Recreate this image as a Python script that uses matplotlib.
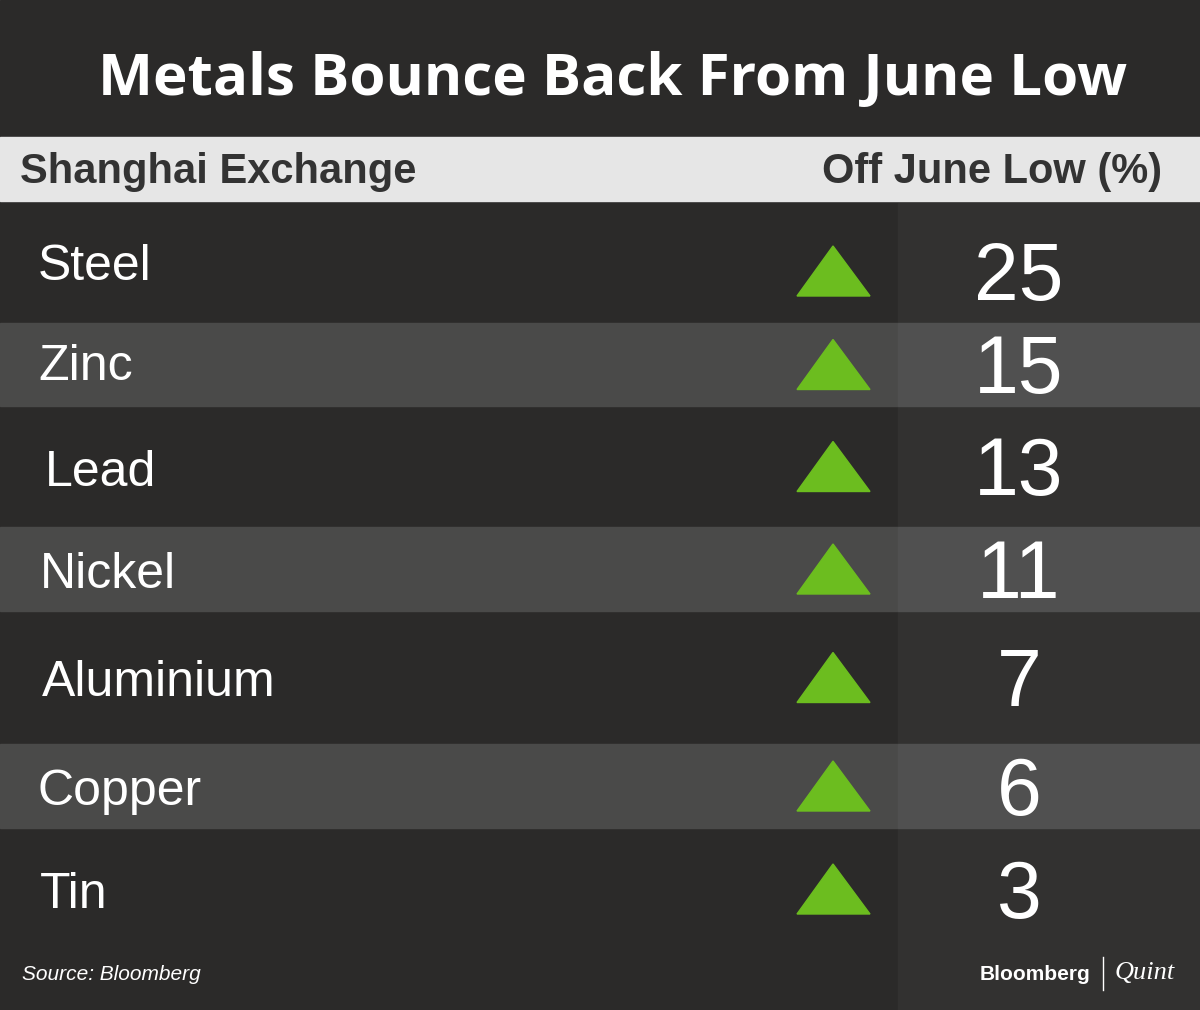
import matplotlib
matplotlib.use("Agg")
import matplotlib.pyplot as plt
from matplotlib.patches import Rectangle, Polygon

title = "Metals Bounce Back From June Low"
col_left = "Shanghai Exchange"
col_right = "Off June Low (%)"
metals = ["Steel", "Zinc", "Lead", "Nickel", "Aluminium", "Copper", "Tin"]
values = [25, 15, 13, 11, 7, 6, 3]
source = "Source: Bloomberg"

# layout (pixels)
row_edges = [203, 323, 406, 527, 611, 744, 828, 950]
label_x = [38, 38, 45, 40, 42, 38, 40]
label_dy = [-10, -3, 0, 0, 0, 0, 0]

fig = plt.figure(figsize=(12, 10.1), dpi=100)
ax = fig.add_axes([0, 0, 1, 1])
ax.set_xlim(0, 1200); ax.set_ylim(1010, 0); ax.axis("off")
dark, light, rdark, rlight = "#2b2a29", "#4a4a49", "#323130", "#505050"
ax.add_patch(Rectangle((0, 0), 1200, 1010, color=dark))
ax.add_patch(Rectangle((898, 203), 302, 807, color=rdark))
ax.text(613, 80, title, color="white", fontsize=42, fontweight="bold",
        family="Open Sans", ha="center", va="center")
ax.add_patch(Rectangle((0, 137), 1200, 64, color="#e6e6e6"))
ax.text(20, 172, col_left, color="#333333", fontsize=30, fontweight="bold",
        family="Liberation Sans", ha="left", va="center")
ax.text(1162, 172, col_right, color="#333333", fontsize=30, fontweight="bold",
        family="Liberation Sans", ha="right", va="center")
for i, (m, v) in enumerate(zip(metals, values)):
    y0, y1 = row_edges[i], row_edges[i + 1]
    if i % 2 == 1:
        ax.add_patch(Rectangle((0, y0), 898, y1 - y0, color=light))
        ax.add_patch(Rectangle((898, y0), 302, y1 - y0, color=rlight))
    yc = (y0 + y1) / 2 + (8 if i == 0 else 0)
    ax.text(label_x[i], yc + label_dy[i] + 6, m, color="white", fontsize=36,
            family="Liberation Sans", ha="left", va="center")
    ax.add_patch(Polygon([(797, yc + 25), (870, yc + 25), (833, yc - 25)],
                         closed=True, color="#6cbd1f"))
    ax.text(1019, yc + 8, str(v), color="white", fontsize=58,
            family="Liberation Sans", ha="center", va="center")
ax.text(22, 974, source, color="white", fontsize=15, style="italic",
        family="Liberation Sans", ha="left", va="center")
ax.text(1090, 974, "Bloomberg", color="white", fontsize=15, fontweight="bold",
        family="Liberation Sans", ha="right", va="center")
ax.plot([1103, 1103], [957, 990], color="white", lw=1)
ax.text(1115, 973, "Quint", color="white", fontsize=19, style="italic",
        family="Liberation Serif", ha="left", va="center")
fig.savefig("out.png", dpi=100)
